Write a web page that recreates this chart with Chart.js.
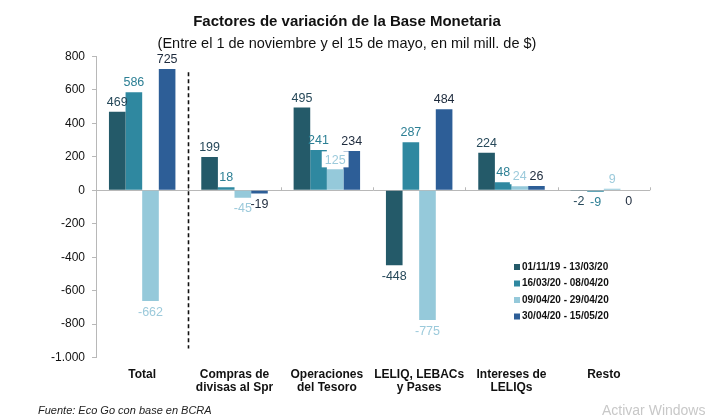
<!DOCTYPE html>
<html>
<head>
<meta charset="utf-8">
<script src="https://cdn.jsdelivr.net/npm/chart.js@4.4.1/dist/chart.umd.min.js"></script>
<style>
	body { margin: 0; background: #fff; }
</style>
</head>
<body>
<canvas id="myChart" width="720" height="420"></canvas>
<script>
// data
var categories = [
	'Total',
	['Compras de', 'divisas al Spr'],
	['Operaciones', 'del Tesoro'],
	['LELIQ, LEBACs', 'y Pases'],
	['Intereses de', 'LELIQs'],
	'Resto'
];
var seriesNames = ['01/11/19 - 13/03/20', '16/03/20 - 08/04/20', '09/04/20 - 29/04/20', '30/04/20 - 15/05/20'];
var periodo1 = [469, 199, 495, -448, 224, -2];
var periodo2 = [586, 18, 241, 287, 48, -9];
var periodo3 = [-662, -45, 125, -775, 24, 9];
var periodo4 = [725, -19, 234, 484, 26, 0];
var yTicks = [-1000, -800, -600, -400, -200, 0, 200, 400, 600, 800];

var barColors = ['#245a69', '#2f88a0', '#95c9da', '#2d5e97'];
var labelColors = ['#27495a', '#2c7f94', '#9ccadb', '#1d2a3c'];
var FONT = '"Liberation Sans", Arial, sans-serif';

function fmt(v) {
	var s = String(Math.abs(v));
	if (s.length > 3) s = s.slice(0, s.length - 3) + '.' + s.slice(s.length - 3);
	return (v < 0 ? '-' : '') + s;
}

// value labels, dashed separator, legend, footer
var extras = {
	id: 'extras',
	afterDatasetsDraw: function(chart) {
		var ctx = chart.ctx;
		var x = chart.scales.x, y = chart.scales.y;
		ctx.save();
		ctx.font = '12.5px ' + FONT;
		ctx.textAlign = 'center';
		chart.data.datasets.forEach(function(ds, i) {
			var meta = chart.getDatasetMeta(i);
			meta.data.forEach(function(bar, j) {
				var v = ds.data[j];
				var ty, tw = ctx.measureText(v).width;
				if (v > 0) {
					ctx.textBaseline = 'bottom';
					ty = bar.y - 3;
					// the light series labels sit on a white box in the original
					if (i === 2) {
						ctx.fillStyle = '#fff';
						ctx.fillRect(bar.x - tw / 2 - 3, ty - 15, tw + 6, 16);
					}
				} else {
					ctx.textBaseline = 'top';
					ty = Math.max(bar.y, y.getPixelForValue(0)) + 5;
				}
				ctx.fillStyle = labelColors[i];
				ctx.fillText(v, bar.x, ty);
			});
		});

		// ticks on the zero line at category boundaries
		var y0 = y.getPixelForValue(0);
		var w = (x.right - x.left) / categories.length;
		ctx.strokeStyle = '#b8b8b8';
		ctx.lineWidth = 1;
		for (var k = 0; k <= categories.length; k++) {
			var xx = Math.round(x.left + k * w) + 0.5;
			ctx.beginPath();
			ctx.moveTo(xx, y0 - 3);
			ctx.lineTo(xx, y0);
			ctx.stroke();
		}

		// dashed separator after Total
		var xs = Math.round(x.left + w) + 0.5;
		ctx.strokeStyle = '#111';
		ctx.lineWidth = 1.6;
		ctx.setLineDash([4, 3]);
		ctx.beginPath();
		ctx.moveTo(xs, y.getPixelForValue(705));
		ctx.lineTo(xs, y.getPixelForValue(-945));
		ctx.stroke();
		ctx.setLineDash([]);

		// legend
		ctx.font = 'bold 10px ' + FONT;
		ctx.textAlign = 'left';
		ctx.textBaseline = 'middle';
		seriesNames.forEach(function(name, i) {
			var ly = 267 + i * 16.5;
			ctx.fillStyle = barColors[i];
			ctx.fillRect(514, ly - 3, 6, 6);
			ctx.fillStyle = '#111';
			ctx.fillText(name, 522, ly);
		});

		// footer
		ctx.font = 'italic 11px ' + FONT;
		ctx.fillStyle = '#222';
		ctx.fillText('Fuente: Eco Go con base en BCRA', 38, 411);
		ctx.font = '14px ' + FONT;
		ctx.fillStyle = '#c8c8c8';
		ctx.fillText('Activar Windows', 602, 411);
		ctx.restore();
	}
};

var ctx = document.getElementById('myChart').getContext('2d');
var myChart = new Chart(ctx, {
	type: 'bar',
	data: {
		labels: categories,
		datasets: [periodo1, periodo2, periodo3, periodo4].map(function(d, i) {
			return {
				label: seriesNames[i],
				data: d,
				backgroundColor: barColors[i],
				borderWidth: 0,
				categoryPercentage: 0.72,
				barPercentage: 1
			};
		})
	},
	options: {
		responsive: false,
		animation: false,
		layout: { padding: { left: 44, right: 70, bottom: 24, top: 0 } },
		plugins: {
			legend: { display: false },
			tooltip: { enabled: false },
			title: {
				display: true,
				text: 'Factores de variación de la Base Monetaria',
				color: '#111',
				font: { family: FONT, size: 15, weight: 'bold' },
				padding: { top: 13, bottom: 4 }
			},
			subtitle: {
				display: true,
				text: '(Entre el 1 de noviembre y el 15 de mayo, en mil mill. de $)',
				color: '#111',
				font: { family: FONT, size: 14.5 },
				padding: { top: 0, bottom: 4 }
			}
		},
		scales: {
			x: {
				grid: { display: false },
				border: { display: false },
				ticks: {
					color: '#111',
					font: { family: FONT, size: 12, weight: 'bold', lineHeight: 1.1 },
					padding: 2,
					autoSkip: false,
					maxRotation: 0
				}
			},
			y: {
				min: -1000,
				max: 800,
				afterBuildTicks: function(axis) {
					axis.ticks = yTicks.map(function(v) { return { value: v }; });
				},
				border: { display: true, color: '#b8b8b8' },
				grid: {
					drawOnChartArea: true,
					tickLength: 4,
					tickColor: '#b8b8b8',
					color: function(c) { return c.tick && c.tick.value === 0 ? '#b8b8b8' : 'rgba(0,0,0,0)'; }
				},
				ticks: {
					color: '#111',
					font: { family: FONT, size: 12 },
					padding: 7,
					callback: function(v) { return fmt(v); }
				}
			}
		}
	},
	plugins: [extras]
});
</script>
</body>
</html>
